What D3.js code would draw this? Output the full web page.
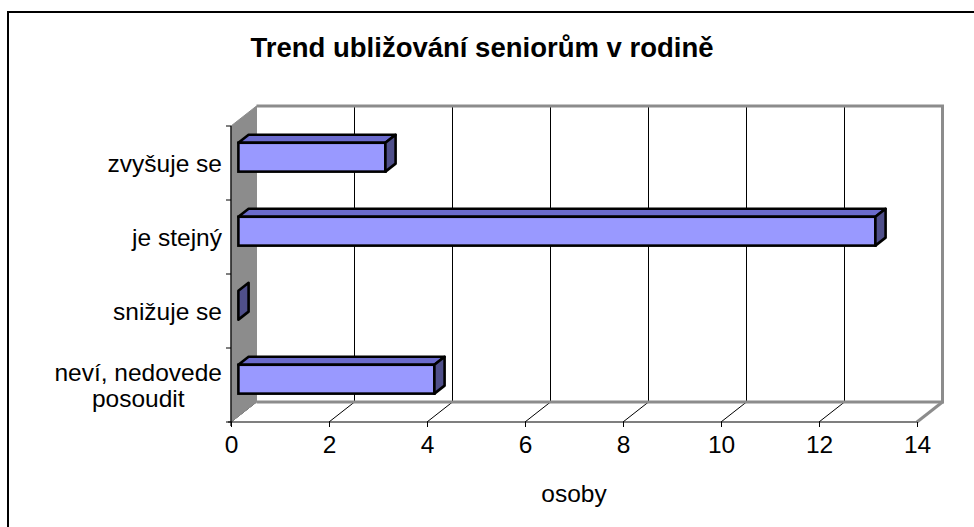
<!DOCTYPE html>
<html>
<head>
<meta charset="utf-8">
<script src="https://cdn.jsdelivr.net/npm/d3@7"></script>
<style>
  body { margin: 0; background: #fff; }
  text { font-family: "Liberation Sans", Arial, sans-serif; fill: #000; }
</style>
</head>
<body>
<div id="chart"></div>
<script>
// --- DATA ---
const categories = ["zvyšuje se ", "je stejný", "snižuje se ", "neví, nedovede posoudit"];
const labelLines = [["zvyšuje se "], ["je stejný"], ["snižuje se "], ["neví, nedovede", "posoudit"]];
const values = [3, 13, 0, 4];
const xTicks = [0, 2, 4, 6, 8, 10, 12, 14];
const title = "Trend ubližování seniorům v rodině";
const xTitle = "osoby";

// --- SETUP ---
const width = 974, height = 527;
const depth = { dx: 25.5, dy: -20 };
const barDepth = { front: 0.29, back: 0.69 };
const labelSize = "24.5px";

const svg = d3.select("#chart").append("svg")
  .attr("width", width).attr("height", height);

svg.append("path")
  .attr("d", "M8,540 L8,12 L990,12")
  .attr("fill", "none").attr("stroke", "#000").attr("stroke-width", 2);

const x = d3.scaleLinear().domain([0, 14]).range([231, 917]);
const y = d3.scaleBand().domain(categories).range([126, 422]);

const x0 = x(0), x1 = x(14), yT = y.range()[0], yB = y.range()[1];

// --- WALLS ---
const backWall = svg.append("g");
// gridlines on back wall
backWall.selectAll("line.grid")
  .data(xTicks.slice(1, -1))
  .enter().append("line")
  .attr("x1", d => x(d) + depth.dx).attr("x2", d => x(d) + depth.dx)
  .attr("y1", yT + depth.dy).attr("y2", yB + depth.dy)
  .attr("stroke", "#000").attr("stroke-width", 1);

// floor diagonals
backWall.selectAll("line.floor")
  .data(xTicks.slice(0, -1))
  .enter().append("line")
  .attr("x1", d => x(d)).attr("y1", yB)
  .attr("x2", d => x(d) + depth.dx).attr("y2", yB + depth.dy)
  .attr("stroke", "#000").attr("stroke-width", 1);

// back wall border + floor back edge (gray)
backWall.append("path")
  .attr("d", `M${x0 + depth.dx},${yT + depth.dy} L${x1 + depth.dx},${yT + depth.dy} L${x1 + depth.dx},${yB + depth.dy} L${x0 + depth.dx},${yB + depth.dy}`)
  .attr("fill", "none").attr("stroke", "#8c8c8c").attr("stroke-width", 3);
backWall.append("line")
  .attr("x1", x1).attr("y1", yB)
  .attr("x2", x1 + depth.dx).attr("y2", yB + depth.dy)
  .attr("stroke", "#8c8c8c").attr("stroke-width", 3);

// left wall
svg.append("path")
  .attr("d", `M${x0},${yT} L${x0 + depth.dx},${yT + depth.dy} L${x0 + depth.dx},${yB + depth.dy} L${x0},${yB} Z`)
  .attr("fill", "#8c8c8c").attr("stroke", "#8c8c8c").attr("stroke-width", 1);

// --- BARS ---
const barH = y.bandwidth() * 0.39;
const fdx = depth.dx * barDepth.front, fdy = depth.dy * barDepth.front;
const bdx = depth.dx * (barDepth.back - barDepth.front), bdy = depth.dy * (barDepth.back - barDepth.front);

const bars = svg.selectAll("g.bar")
  .data(categories.map((c, i) => ({ c, v: values[i] })))
  .enter().append("g");

bars.each(function(d) {
  const g = d3.select(this);
  const left = x(0) + fdx, right = x(d.v) + fdx;
  const top = y(d.c) + y.bandwidth() / 2 - barH / 2 + fdy, bot = top + barH;
  const st = { stroke: "#000", w: 2.6 };
  if (d.v > 0) {
    g.append("path")
      .attr("d", `M${left},${top} L${left + bdx},${top + bdy} L${right + bdx},${top + bdy} L${right},${top} Z`)
      .attr("fill", "#6b6bcc").attr("stroke", st.stroke).attr("stroke-width", st.w).attr("stroke-linejoin", "round");
    g.append("rect")
      .attr("x", left).attr("y", top).attr("width", right - left).attr("height", barH)
      .attr("fill", "#9999ff").attr("stroke", st.stroke).attr("stroke-width", st.w);
  }
  g.append("path")
    .attr("d", `M${right},${top} L${right + bdx},${top + bdy} L${right + bdx},${bot + bdy} L${right},${bot} Z`)
    .attr("fill", "#4f4f8a").attr("stroke", st.stroke).attr("stroke-width", st.w).attr("stroke-linejoin", "round");
});

// --- AXES ---
const xAxis = svg.append("g")
  .attr("transform", `translate(0,${yB})`)
  .call(d3.axisBottom(x).tickValues(xTicks).tickSize(5).tickPadding(9).tickFormat(d3.format("d")));
xAxis.select(".domain").attr("stroke", "#000").attr("stroke-width", 1.2).attr("d", `M${x0 - 3},0H${x1}`);
xAxis.selectAll(".tick line").attr("stroke", "#000");
xAxis.selectAll(".tick text")
  .style("font-family", "'Liberation Sans', Arial, sans-serif").style("font-size", labelSize).attr("fill", "#000");

const yAxis = svg.append("g");
yAxis.append("line")
  .attr("x1", x0).attr("x2", x0).attr("y1", yT).attr("y2", yB + 4)
  .attr("stroke", "#000").attr("stroke-width", 1.2);
yAxis.selectAll("line.tick")
  .data(categories.map(c => y(c)).concat([yB]))
  .enter().append("line")
  .attr("x1", x0 - 5).attr("x2", x0).attr("y1", d => d).attr("y2", d => d)
  .attr("stroke", "#000");

const catLabels = yAxis.selectAll("text.cat")
  .data(categories)
  .enter().append("text")
  .attr("text-anchor", "middle")
  .style("font-size", labelSize);

// each label block is centred on its widest line, right edge at x=222
catLabels.each(function(c, i) {
  const lines = labelLines[i];
  const t = d3.select(this);
  const cy = y(c) + y.bandwidth() / 2;
  lines.forEach((ln, j) => {
    t.append("tspan")
      .attr("y", cy + 8.5 + (j - (lines.length - 1) / 2) * 26)
      .text(ln);
  });
  const widths = [];
  t.selectAll("tspan").each(function() { widths.push(this.getComputedTextLength()); });
  const maxW = d3.max(widths);
  t.selectAll("tspan").attr("x", 222 - maxW / 2);
});

// --- TITLES ---
svg.append("text")
  .attr("x", 482).attr("y", 57)
  .attr("text-anchor", "middle")
  .style("font-size", "27.5px").style("font-weight", "bold")
  .text(title);

svg.append("text")
  .attr("x", 574).attr("y", 502)
  .attr("text-anchor", "middle")
  .style("font-size", labelSize)
  .text(xTitle);
</script>
</body>
</html>
